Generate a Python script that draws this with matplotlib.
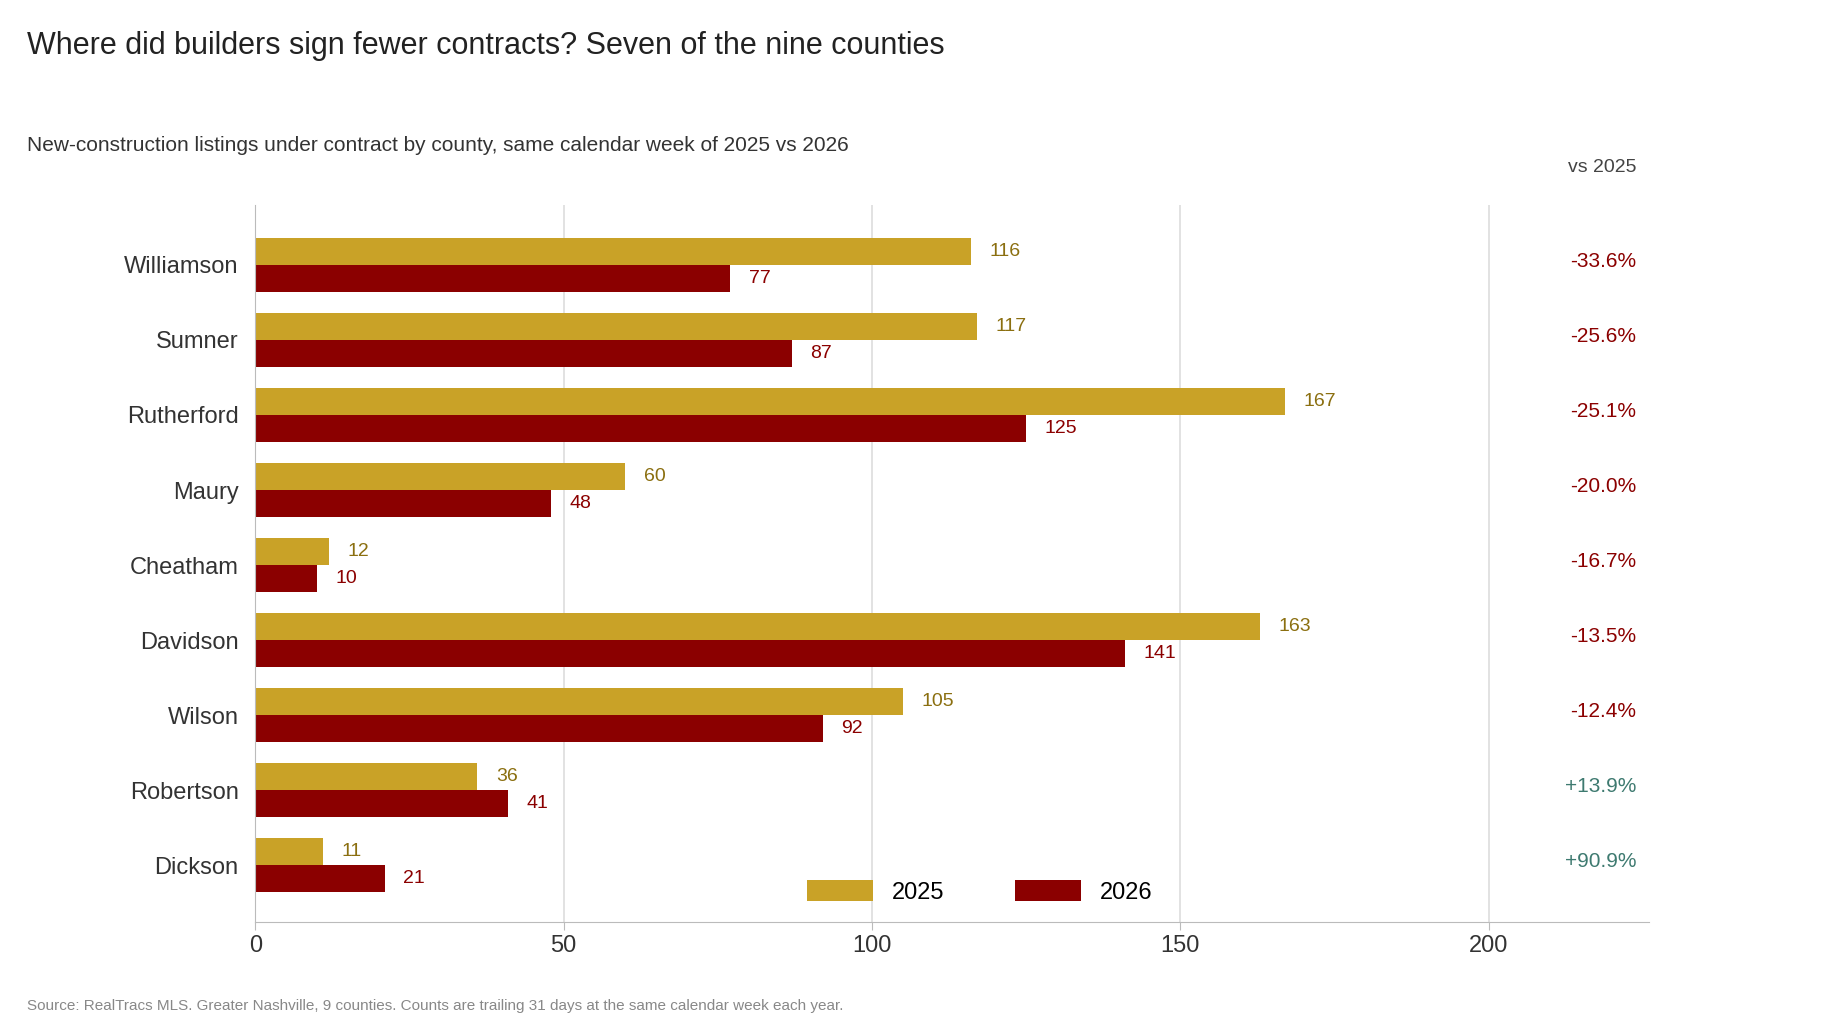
import matplotlib
matplotlib.use("Agg")
import matplotlib.pyplot as plt
import numpy as np

plt.rcParams['font.family'] = ['Liberation Sans', 'DejaVu Sans']

counties = ["Williamson", "Sumner", "Rutherford", "Maury", "Cheatham",
            "Davidson", "Wilson", "Robertson", "Dickson"]
v2025 = [116, 117, 167, 60, 12, 163, 105, 36, 11]
v2026 = [77, 87, 125, 48, 10, 141, 92, 41, 21]
changes = ["-33.6%", "-25.6%", "-25.1%", "-20.0%", "-16.7%",
           "-13.5%", "-12.4%", "+13.9%", "+90.9%"]

gold = "#C9A227"
red = "#8B0000"
gold_txt = "#8B6F10"
green_txt = "#3E7A70"

fig = plt.figure(figsize=(18.24, 10.24), dpi=100)
ax = fig.add_axes([0.14, 0.10, 0.764, 0.70])

y = np.arange(len(counties))
h = 0.36
ax.barh(y - h / 2, v2025, height=h, color=gold, label="2025", zorder=2)
ax.barh(y + h / 2, v2026, height=h, color=red, label="2026", zorder=2)

for i in range(len(counties)):
    ax.text(v2025[i] + 3, y[i] - h / 2, str(v2025[i]), va='center', ha='left',
            fontsize=14, color=gold_txt)
    ax.text(v2026[i] + 3, y[i] + h / 2, str(v2026[i]), va='center', ha='left',
            fontsize=14, color=red)
    col = green_txt if changes[i].startswith('+') else red
    ax.text(224, y[i] - 0.05, changes[i], va='center', ha='right', fontsize=15, color=col)

ax.text(224, -1.3, "vs 2025", va='center', ha='right', fontsize=14, color="#444444")

ax.set_yticks(y)
ax.set_yticklabels(counties, fontsize=17, color="#333333")
ax.set_ylim(len(counties) - 0.25, -0.8)
ax.set_xlim(0, 226)
ax.set_xticks([0, 50, 100, 150, 200])
ax.tick_params(axis='x', labelsize=17, colors="#333333", length=6, color="#bbbbbb")
ax.tick_params(axis='y', length=0, pad=12)
ax.grid(axis='x', color="#dddddd", linewidth=1.2, zorder=0)
for s in ['top', 'right']:
    ax.spines[s].set_visible(False)
ax.spines['left'].set_color("#bbbbbb")
ax.spines['bottom'].set_color("#bbbbbb")

ax.legend(loc='lower center', bbox_to_anchor=(0.52, -0.005), ncol=2, frameon=False,
          fontsize=17, handlelength=2.8, handleheight=1.0, columnspacing=3)

fig.text(0.015, 0.955, "Where did builders sign fewer contracts? Seven of the nine counties",
         fontsize=22, color="#222222", va='center')
fig.text(0.015, 0.858, "New-construction listings under contract by county, same calendar week of 2025 vs 2026",
         fontsize=15, color="#333333", va='center')
fig.text(0.015, 0.018, "Source: RealTracs MLS. Greater Nashville, 9 counties. Counts are trailing 31 days at the same calendar week each year.",
         fontsize=11, color="#888888", va='center')

fig.savefig("out.png", dpi=100, facecolor='white')
